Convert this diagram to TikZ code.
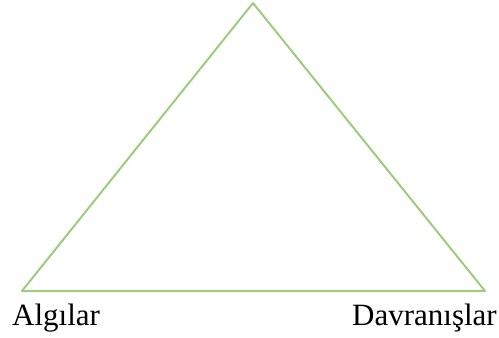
\documentclass[tikz,border=0pt]{standalone}
\usepackage{fontspec}
\setmainfont{Liberation Serif}
\definecolor{trigreen}{RGB}{158,203,125}
\begin{document}
\begin{tikzpicture}[x=1pt,y=1pt,
  edge/.style={draw=trigreen,line width=2pt,line join=round},
  lbl/.style={inner sep=0pt,font=\fontsize{31}{37}\selectfont}]
\useasboundingbox (0,0) rectangle (499,-338);
\coordinate (top) at (253,-3);
\coordinate (left) at (22,-291);
\coordinate (right) at (485,-291);
\draw[edge] (top) -- (left) -- (right) -- cycle;
\node[lbl,anchor=base west] (alg) at (12,-325) {Algılar};
\node[lbl,anchor=base east] (dav) at (497,-325) {Davranışlar};
\end{tikzpicture}
\end{document}
